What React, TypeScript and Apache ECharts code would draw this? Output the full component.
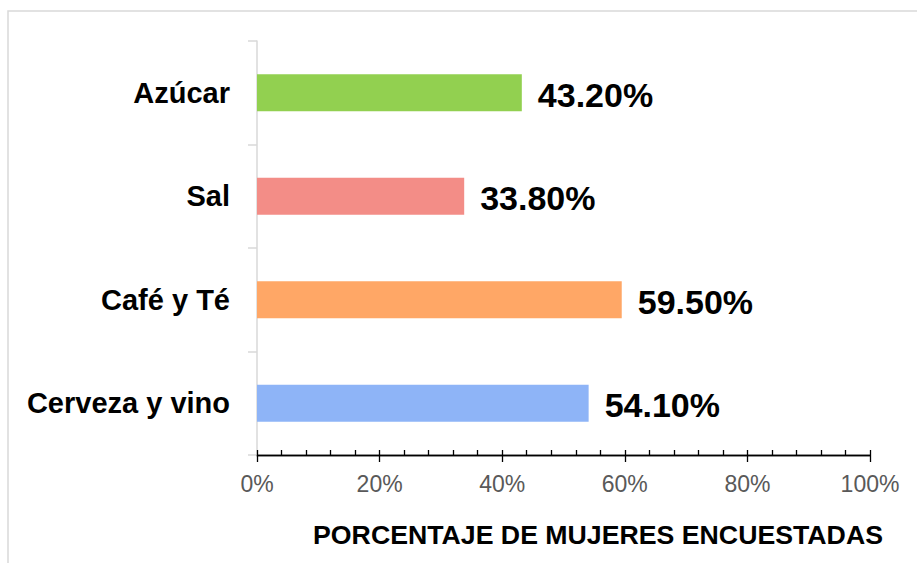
import React, { useEffect, useRef } from "react";
import * as echarts from "echarts";

const categories = ["Azúcar", "Sal", "Café y Té", "Cerveza y vino"];
const values = [43.2, 33.8, 59.5, 54.1];
const barColors = ["#92D050", "#F38D87", "#FFA766", "#8EB4F7"];
const axisTitle = "PORCENTAJE DE MUJERES ENCUESTADAS";

const FONT = "'Liberation Sans', Arial, sans-serif";

export default function App() {
  const ref = useRef<HTMLDivElement>(null);
  useEffect(() => {
    if (!ref.current) return;
    const chart = echarts.init(ref.current, null, { renderer: "svg" });
    const xBase = {
      type: "value" as const,
      min: 0,
      max: 100,
      interval: 20,
      position: "bottom" as const,
      splitLine: { show: false },
      axisLine: { show: true, lineStyle: { color: "#000", width: 1.3 } },
    };
    chart.setOption({
      animation: false,
      backgroundColor: "#fff",
      textStyle: { fontFamily: FONT },
      grid: { left: 257, right: 47, top: 41, bottom: 108 },
      title: {
        text: axisTitle,
        left: 593,
        top: 516,
        textAlign: "center",
        textStyle: { fontFamily: FONT, fontSize: 26.7, fontWeight: "bold", color: "#000" },
      },
      graphic: [
        {
          type: "rect",
          shape: { x: 8, y: 11, width: 1000, height: 1000 },
          style: { fill: "none", stroke: "#D9D9D9", lineWidth: 1.5 },
          silent: true,
        },
      ],
      xAxis: [
        {
          ...xBase,
          axisTick: { show: true, inside: true, length: 5, lineStyle: { color: "#000", width: 1.3 } },
          minorTick: { show: true, splitNumber: 5, length: 5, lineStyle: { color: "#000", width: 1.3 } },
          axisLabel: { show: false },
        },
        {
          ...xBase,
          axisTick: { show: true, inside: false, length: 7, lineStyle: { color: "#000", width: 1.3 } },
          axisLabel: {
            show: true,
            margin: 17,
            formatter: "{value}%",
            color: "#595959",
            fontSize: 23,
            fontFamily: FONT,
          },
        },
      ],
      yAxis: {
        type: "category",
        data: categories,
        inverse: true,
        axisLine: { show: true, lineStyle: { color: "#D9D9D9", width: 1.5 } },
        axisTick: { show: true, length: 9, lineStyle: { color: "#D9D9D9", width: 1.5 } },
        axisLabel: {
          margin: 27,
          color: "#000",
          fontSize: 29,
          fontWeight: "bold",
          fontFamily: FONT,
        },
      },
      series: [
        {
          type: "bar",
          xAxisIndex: 0,
          barWidth: 37,
          data: values.map((v, i) => ({ value: v, itemStyle: { color: barColors[i] } })),
          label: {
            show: true,
            position: "right",
            distance: 16,
            offset: [0, 2],
            formatter: (p: any) => `${Number(p.value).toFixed(2)}%`,
            color: "#000",
            fontSize: 34,
            fontWeight: "bold",
            fontFamily: FONT,
          },
        },
      ],
    });
    return () => chart.dispose();
  }, []);
  return (
    <div
      ref={ref}
      style={{ position: "fixed", left: 0, top: 0, width: 917, height: 563 }}
    />
  );
}
